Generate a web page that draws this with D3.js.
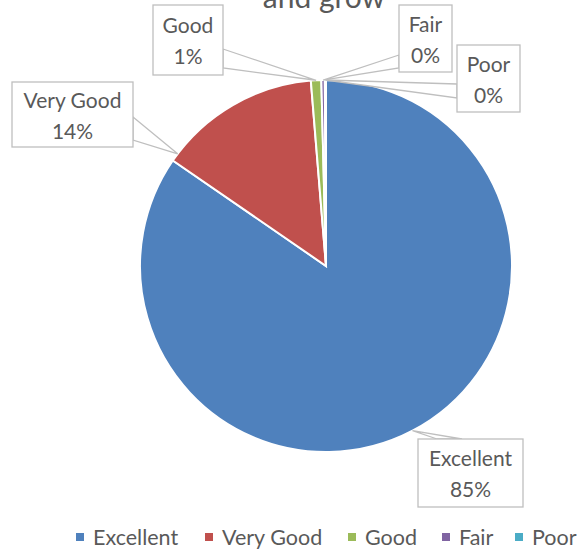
<!DOCTYPE html>
<html>
<head>
<meta charset="utf-8">
<script src="https://cdn.jsdelivr.net/npm/d3@7"></script>
<style>
  body { margin: 0; padding: 0; background: #fff; }
</style>
</head>
<body>
<div id="chart"></div>
<script>
  // data
  var categories = ['Excellent', 'Very Good', 'Good', 'Fair', 'Poor']
  var shares = [84.6, 14.1, 0.9, 0.3, 0.1]
  var pctLabels = ['85%', '14%', '1%', '0%', '0%']
  var colours = ['#4f81bd', '#c0504d', '#9bbb59', '#8064a2', '#4bacc6']

  var width = 588, height = 550
  var cx = 326, cy = 266, radius = 186
  var text_colour = '#595959'
  var font = 'Lato, "Liberation Sans", sans-serif'

  // callout boxes: [x, y, w, h], pointer base points, where on the slice the tip lands
  var callouts = [
    { box: [418, 439, 105, 68], base: [[437, 439], [462, 439]], frac: 0.5 },
    { box: [12, 82, 121, 65], base: [[133, 117], [133, 140]], frac: 0.05 },
    { box: [153, 5, 70, 70], base: [[223, 49], [223, 68]], frac: 0.5 },
    { box: [399, 5, 53, 67], base: [[399, 55], [399, 68]], frac: 0.5 },
    { box: [457, 45, 63, 67], base: [[457, 84], [457, 98]], frac: 0.5 }
  ]

  var svg = d3.select('#chart').append('svg')
    .attr('width', width).attr('height', height)

  // title (cut off at the top, as in the original)
  svg.append('text')
    .text('and grow')
    .attr('x', 324).attr('y', 8)
    .attr('text-anchor', 'middle')
    .style('fill', text_colour)
    .attr('font-family', font)
    .attr('font-size', 30)

  var colour = d3.scaleOrdinal().domain(categories).range(colours)

  var pie = d3.pie().sort(null).value(d => d.v)
  var arcs = pie(categories.map((c, i) => ({ c: c, v: shares[i] })))
  var arc = d3.arc().innerRadius(0).outerRadius(radius)

  var g = svg.append('g').attr('transform', 'translate(' + cx + ',' + cy + ')')
  g.selectAll('path').data(arcs).enter().append('path')
    .attr('d', arc)
    .style('fill', d => colour(d.data.c))
    .style('stroke', '#fff')
    .style('stroke-width', 2)

  // callouts
  arcs.forEach((a, i) => {
    var co = callouts[i]
    var ang = a.startAngle + (a.endAngle - a.startAngle) * co.frac
    var tip = [cx + radius * Math.sin(ang), cy - radius * Math.cos(ang)]

    svg.append('polygon')
      .attr('points', [co.base[0], tip, co.base[1]].map(p => p.join(',')).join(' '))
      .style('fill', '#fff')
      .style('stroke', '#bfbfbf')
      .style('stroke-width', 1.3)

    svg.append('rect')
      .attr('x', co.box[0]).attr('y', co.box[1])
      .attr('width', co.box[2]).attr('height', co.box[3])
      .style('fill', '#fff')
      .style('stroke', '#bfbfbf')
      .style('stroke-width', 1.3)

    var mid = co.box[0] + co.box[2] / 2
    var top = co.box[1] + co.box[3] / 2
    svg.append('text')
      .text(a.data.c)
      .attr('x', mid).attr('y', top - 7)
      .attr('text-anchor', 'middle')
      .style('fill', text_colour)
      .attr('font-family', font)
      .attr('font-size', 21)
    svg.append('text')
      .text(pctLabels[i])
      .attr('x', mid).attr('y', top + 24)
      .attr('text-anchor', 'middle')
      .style('fill', text_colour)
      .attr('font-family', font)
      .attr('font-size', 21)
  })

  // legend
  var legendX = [76, 205, 348, 442, 515]
  var legend = svg.selectAll('.legend').data(categories).enter().append('g')
    .attr('class', 'legend')
    .attr('transform', (d, i) => 'translate(' + legendX[i] + ',537)')
  legend.append('rect')
    .attr('x', 0).attr('y', -4)
    .attr('width', 8).attr('height', 8)
    .style('fill', d => colour(d))
  legend.append('text')
    .text(d => d)
    .attr('x', 17).attr('y', 8)
    .style('fill', text_colour)
    .attr('font-family', font)
    .attr('font-size', 21.5)
</script>
</body>
</html>
